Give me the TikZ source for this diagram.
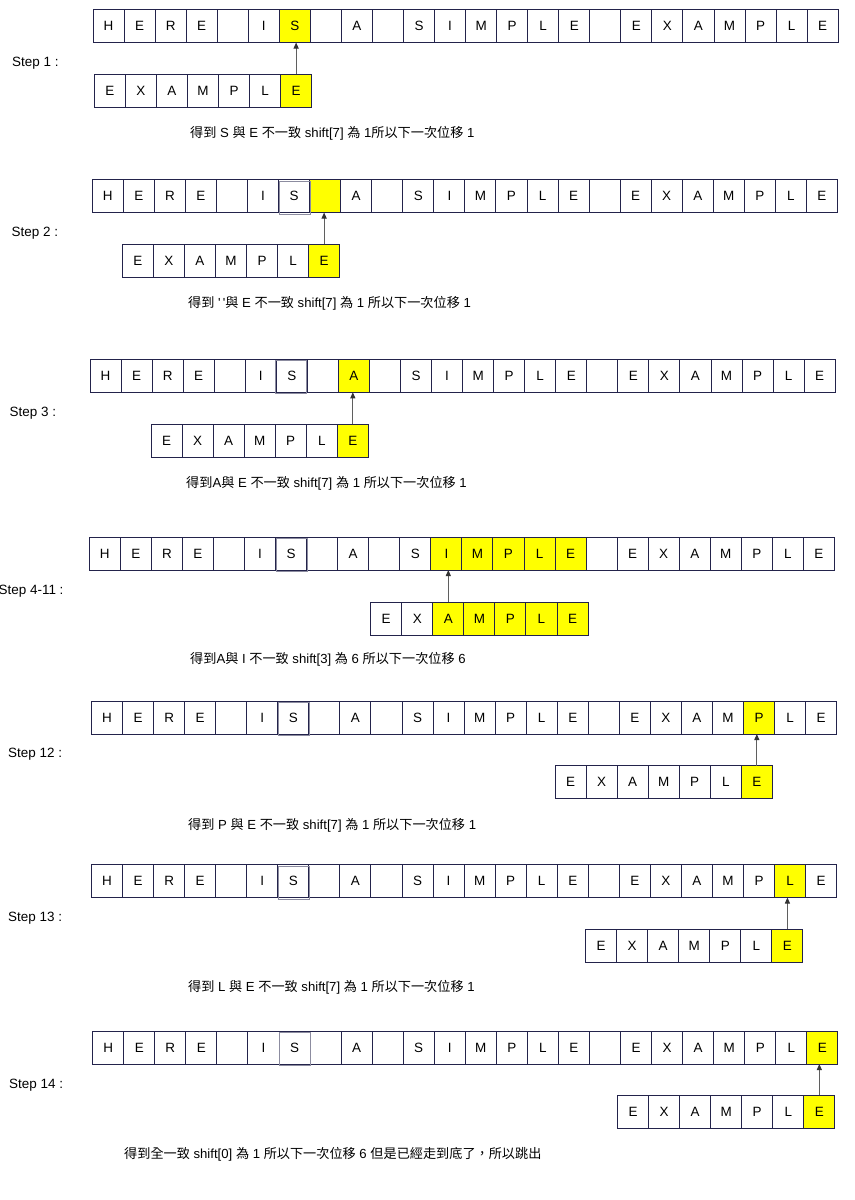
\documentclass[tikz,border=0pt]{standalone}
\usepackage{fontspec}
\setmainfont{Liberation Sans}
\newfontfamily\cjk{Noto Sans CJK TC}
\newfontfamily\rawsans{Liberation Sans}[Ligatures=TeXOff]
\usetikzlibrary{arrows.meta}
\definecolor{cellline}{RGB}{35,35,75}
\definecolor{hlyellow}{RGB}{255,255,0}
\definecolor{arrowgray}{RGB}{95,95,95}
\definecolor{ghost}{RGB}{140,140,160}
\newcommand\C[1]{{\cjk #1}}
\def\toprow{H,E,R,E,{},I,S,{},A,{},S,I,M,P,L,E,{},E,X,A,M,P,L,E}
\def\patrow{E,X,A,M,P,L,E}
% #1 prefix, #2 x0, #3 ytop, #4 hl lo, #5 hl hi, #6 list macro
\newcommand\cellrow[6]{%
  \foreach \ch [count=\i from 0] in #6 {%
    \ifnum\i<#4\relax \def\fc{white}\else\ifnum\i>#5\relax \def\fc{white}\else\def\fc{hlyellow}\fi\fi
    \node[cell, fill=\fc] (#1\i) at ({#2+(\i+0.5)*31.05}, {#3+16.5}) {\ch};
  }%
}
\tikzset{
  cell/.style={draw=cellline, line width=1bp, minimum width=31.05bp, minimum height=33bp,
    inner sep=0pt, outer sep=0pt, font=\fontsize{13.5}{15}\selectfont},
  steplabel/.style={anchor=west, inner sep=0pt, font=\fontsize{13.5}{15}\selectfont},
  caption/.style={anchor=west, inner sep=0pt, font=\fontsize{13.2}{15}\selectfont},
  arr/.style={draw=arrowgray, line width=1bp, -{Triangle[length=6bp,width=5bp,color=black!80]}},
  ghostbox/.style={draw=ghost, line width=1bp}
}
\begin{document}
\begin{tikzpicture}[x=1bp, y=-1bp]
\useasboundingbox[fill=white] (0,0) rectangle (855,1200);

% ---------- Step 1
\cellrow{aT}{93}{9.5}{6}{6}{\toprow}
\cellrow{aP}{94.3}{74}{6}{6}{\patrow}
\draw[arr] (aP6.north) -- (aP6.north |- aT6.south);
\node[steplabel] (aL) at (12,63) {Step 1 :};
\node[caption] (aC) at (190,133) {\C{得到} S \C{與} E \C{不一致} shift[7] \C{為} 1\C{所以下一次位移} 1};

% ---------- Step 2
\cellrow{bT}{92.3}{179.5}{7}{7}{\toprow}
\draw[ghostbox] ([shift={(0.5,1.5)}]bT6.north west) rectangle ([shift={(0.5,1.5)}]bT6.south east);
\cellrow{bP}{122.3}{244}{6}{6}{\patrow}
\draw[arr] (bP6.north) -- (bP6.north |- bT7.south);
\node[steplabel] (bL) at (11.5,233) {Step 2 :};
\node[caption] (bC) at (188,303.5) {\C{得到} {\rawsans'\,'}\C{與} E \C{不一致} shift[7] \C{為} 1 \C{所以下一次位移} 1};

% ---------- Step 3
\cellrow{cT}{90}{359.3}{8}{8}{\toprow}
\draw[ghostbox] ([shift={(-0.5,1.5)}]cT6.north west) rectangle ([shift={(-0.5,1.5)}]cT6.south east);
\cellrow{cP}{151}{424}{6}{6}{\patrow}
\draw[arr] (cP6.north) -- (cP6.north |- cT8.south);
\node[steplabel] (cL) at (9.5,413) {Step 3 :};
\node[caption] (cC) at (186,483.3) {\C{得到}A\C{與} E \C{不一致} shift[7] \C{為} 1 \C{所以下一次位移} 1};

% ---------- Step 4-11
\cellrow{dT}{89.3}{537}{11}{15}{\toprow}
\draw[ghostbox] ([shift={(0.5,1.5)}]dT6.north west) rectangle ([shift={(0.5,1.5)}]dT6.south east);
\cellrow{dP}{370.7}{602.3}{2}{6}{\patrow}
\draw[arr] (dP2.north) -- (dP2.north |- dT11.south);
\node[steplabel] (dL) at (-1.5,591.5) {Step 4-11 :};
\node[caption] (dC) at (190,659.5) {\C{得到}A\C{與} I \C{不一致} shift[3] \C{為} 6 \C{所以下一次位移} 6};

% ---------- Step 12
\cellrow{eT}{91.5}{701}{21}{21}{\toprow}
\draw[ghostbox] ([shift={(0.5,1.5)}]eT6.north west) rectangle ([shift={(0.5,1.5)}]eT6.south east);
\cellrow{eP}{555}{765.5}{6}{6}{\patrow}
\draw[arr] (eP6.north) -- (eP6.north |- eT21.south);
\node[steplabel] (eL) at (8,754.3) {Step 12 :};
\node[caption] (eC) at (188,825) {\C{得到} P \C{與} E \C{不一致} shift[7] \C{為} 1 \C{所以下一次位移} 1};

% ---------- Step 13
\cellrow{fT}{91.5}{864.5}{22}{22}{\toprow}
\draw[ghostbox] ([shift={(0.5,1.5)}]fT6.north west) rectangle ([shift={(0.5,1.5)}]fT6.south east);
\cellrow{fP}{585.6}{929.3}{6}{6}{\patrow}
\draw[arr] (fP6.north) -- (fP6.north |- fT22.south);
\node[steplabel] (fL) at (8,918.3) {Step 13 :};
\node[caption] (fC) at (188,987.7) {\C{得到} L \C{與} E \C{不一致} shift[7] \C{為} 1 \C{所以下一次位移} 1};

% ---------- Step 14
\cellrow{gT}{92.7}{1031}{23}{23}{\toprow}
\draw[ghostbox] ([shift={(0.5,1.5)}]gT6.north west) rectangle ([shift={(0.5,1.5)}]gT6.south east);
\cellrow{gP}{617.5}{1095.3}{6}{6}{\patrow}
\draw[arr] (gP6.north) -- (gP6.north |- gT23.south);
\node[steplabel] (gL) at (9,1085) {Step 14 :};
\node[caption] (gC) at (124,1154) {\C{得到全一致} shift[0] \C{為} 1 \C{所以下一次位移} 6 \C{但是已經走到底了，所以跳出}};
\end{tikzpicture}
\end{document}
